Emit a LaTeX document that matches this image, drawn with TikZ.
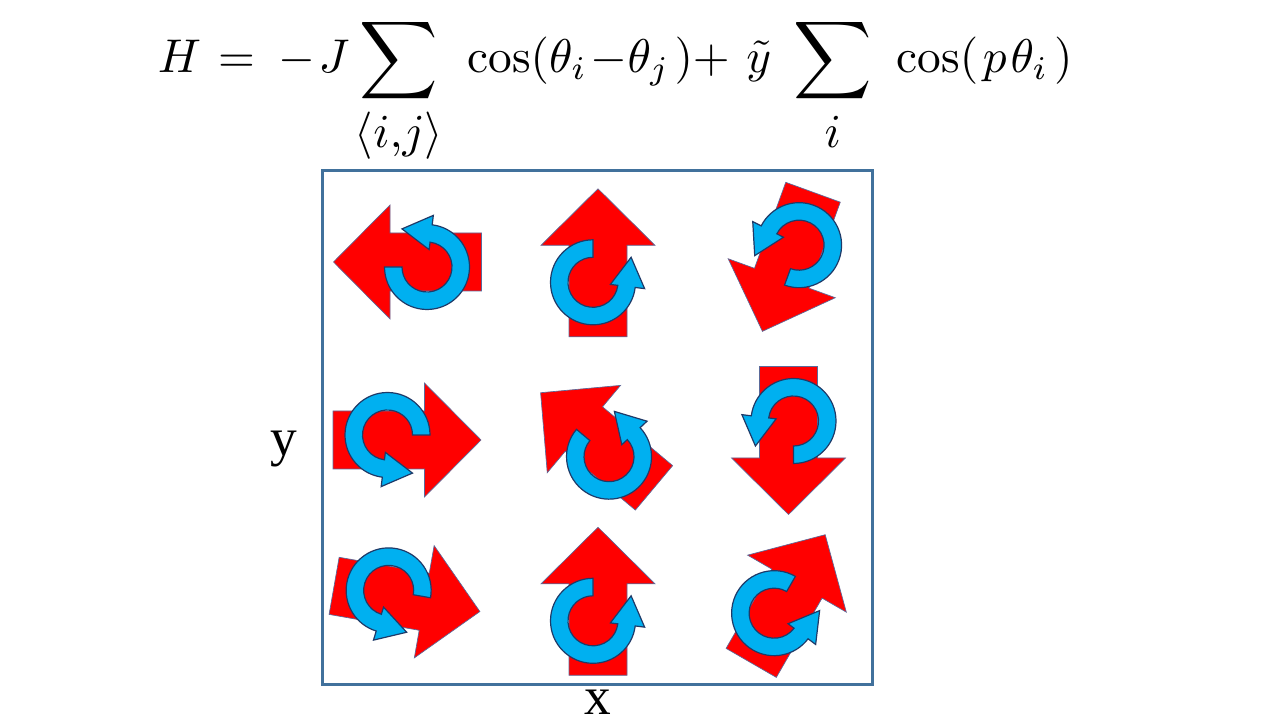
\RequirePackage{fix-cm}
\documentclass[tikz,border=0pt]{standalone}
\usepackage{fontspec}
\usepackage{graphicx}
\usepackage{tikz}
\usetikzlibrary{positioning}
\newfontfamily\labelfont{Liberation Serif}
\definecolor{spinblue}{HTML}{00B0F0}
\definecolor{spinedge}{HTML}{1F3A68}
\definecolor{arrowedge}{HTML}{5B6A9A}
\definecolor{boxblue}{HTML}{41719C}
\newcommand{\bigsum}{\mathop{\vcenter{\hbox{\scalebox{1.15}{$\displaystyle\sum$}}}}\limits}
\newcommand{\spincell}[3]{%
  \begin{scope}[shift={(#1,#2)}, rotate=#3]
    \path[redarrow] (-29,-74) -- (29,-74) -- (29,17.5) -- (57,17.5) -- (0,74) -- (-57,17.5) -- (-29,17.5) -- cycle;
    \path[bluespin, shift={(-5,-19.5)}] (90:42.5) arc[start angle=90, end angle=353, radius=42.5] -- (353:52) -- (38.1,25) -- (353:17.5) -- (353:25) arc[start angle=353, end angle=90, radius=25] -- cycle;
  \end{scope}}

\begin{document}
\begin{tikzpicture}[x=0.75pt, y=0.75pt,
  redarrow/.style={fill=red, draw=arrowedge, line width=0.5pt},
  bluespin/.style={fill=spinblue, draw=spinedge, line width=0.9pt},
  latticebox/.style={draw=boxblue, line width=2pt, inner sep=0pt, minimum width=412.2pt, minimum height=385.2pt},
  axislabel/.style={font=\labelfont\fontsize{40}{44}\selectfont, inner sep=0pt}]
\useasboundingbox (0,0) rectangle (1280,720);

\node[anchor=base west, inner sep=0pt, scale=3.55, transform shape] (hamiltonian) at (157,647.7)
  {$\displaystyle H\kern0.8pt=\kern2.2pt-\kern0.7pt J\kern-0.5pt\bigsum_{\rule{0pt}{7.5pt}\textstyle\langle i{,}j\rangle}\kern3.4pt\cos(\theta_i\kern0.8pt{-}\theta_j\kern1pt){+}\kern3.5pt\tilde{y}\kern3pt\bigsum_{\rule{0pt}{7.5pt}\textstyle i}\kern3.5pt\cos(\kern1pt p\kern0.8pt\theta_i\kern1.2pt)$};

\node[latticebox] (lattice) at (597.5,292.5) {};
\node[axislabel, below=3pt of lattice] (xlab) {x};
\node[axislabel, left=18pt of lattice, yshift=-16pt] (ylab) {y};

\spincell{407.5}{458}{90}
\spincell{598}{457.2}{0}
\spincell{787.7}{458.2}{160}
\spincell{407}{280}{-90}
\spincell{597.3}{279.7}{50}
\spincell{788.5}{279.5}{180}
\spincell{407}{121.3}{-100}
\spincell{598}{118.7}{0}
\spincell{788.2}{121.2}{-30}
\end{tikzpicture}
\end{document}
